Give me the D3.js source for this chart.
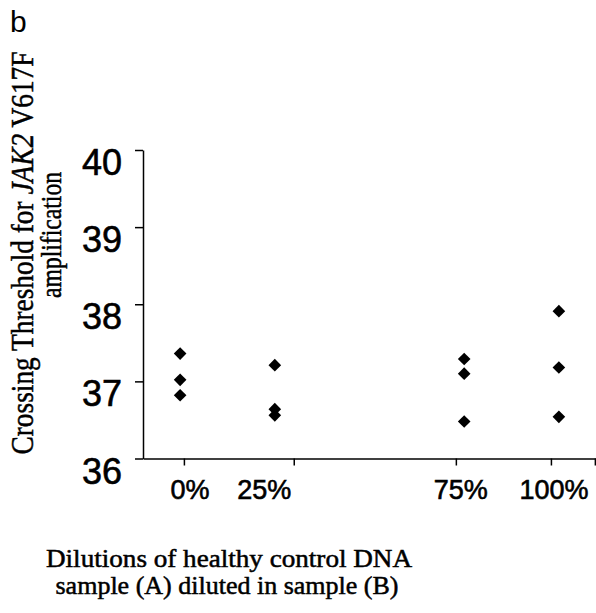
<!DOCTYPE html>
<html>
<head>
<meta charset="utf-8">
<script src="https://cdn.jsdelivr.net/npm/d3@7"></script>
<style>
  body { margin: 0; background: #fff; }
  svg { display: block; }
</style>
</head>
<body>
<div id="chart"></div>
<script>
// chart values
const dilutions = [0, 25, 75, 100];               // % of sample A
const ctValues = [
  [37.36, 37.02, 36.82],   // 0%
  [37.21, 36.64, 36.56],   // 25%
  [37.29, 37.10, 36.48],   // 75%
  [37.91, 37.18, 36.54]    // 100%
];
const yTicks = [36, 37, 38, 39, 40];
const xTickMarks = [1, 30, 72.8, 97.9, 109.5];   // tick marks sit off the categories in the original
const xTickLabels = ["0%", "25%", "75%", "100%"];
const xLabelPos = [2.6, 22.2, 74.1, 98.7];

const svgWidth = 596;
const svgHeight = 613;

const svg = d3.select("#chart")
    .append("svg")
    .attr("width", svgWidth)
    .attr("height", svgHeight);

// scales
const x = d3.scaleLinear()
    .domain([-9.8, 109.8])
    .range([143, 596]);

const y = d3.scaleLinear()
    .domain([36, 40])
    .range([458.5, 150]);

// y axis: line + ticks to the left, labels done by hand because they sit below the ticks
svg.append("g")
    .attr("class", "axis axis-y")
    .attr("transform", `translate(${x(-9.8)},0)`)
    .call(d3.axisLeft(y).tickValues(yTicks).tickSize(8).tickSizeOuter(0).tickFormat(""));

// x axis
svg.append("g")
    .attr("class", "axis axis-x")
    .attr("transform", `translate(0,${y(36)})`)
    .call(d3.axisBottom(x).tickValues(xTickMarks).tickSize(7).tickSizeOuter(0).tickFormat(""));

svg.selectAll(".axis path, .axis line")
    .attr("stroke", "#000")
    .attr("stroke-width", 1.5);

// y tick labels
svg.selectAll(".ylab")
    .data(yTicks)
    .enter()
    .append("text")
    .attr("class", "ylab")
    .attr("x", 122)
    .attr("y", d => y(d) + 25)
    .attr("text-anchor", "end")
    .attr("font-family", "Liberation Sans, Arial, sans-serif")
    .attr("font-size", "36px")
    .attr("stroke", "#000")
    .attr("stroke-width", 0.6)
    .text(d => d);

// x tick labels
svg.selectAll(".xlab")
    .data(xTickLabels)
    .enter()
    .append("text")
    .attr("class", "xlab")
    .attr("x", (d, i) => x(xLabelPos[i]))
    .attr("y", y(36) + 40)
    .attr("text-anchor", "middle")
    .attr("font-family", "Liberation Sans, Arial, sans-serif")
    .attr("font-size", "27px")
    .attr("stroke", "#000")
    .attr("stroke-width", 0.6)
    .text(d => d);

// points, flattened
const points = [];
dilutions.forEach(function (d, i) {
    ctValues[i].forEach(function (v) {
        points.push({ dil: d, ct: v });
    });
});

const diamond = d3.symbol().type(d3.symbolSquare).size(80);

svg.selectAll(".pt")
    .data(points)
    .enter()
    .append("path")
    .attr("class", "pt")
    .attr("d", diamond)
    .attr("transform", d => `translate(${x(d.dil)},${y(d.ct)}) rotate(45)`)
    .attr("fill", "#000");

// panel letter
svg.append("text")
    .text("b")
    .attr("x", 10)
    .attr("y", 32)
    .attr("font-family", "Liberation Sans, Arial, sans-serif")
    .attr("font-size", "30px");

// y axis title, two lines rotated
const yTitle = svg.append("g")
    .attr("font-family", "Liberation Serif, Times New Roman, serif")
    .attr("fill", "#000")
    .attr("stroke", "#000")
    .attr("stroke-width", 0.5);

const yt1 = yTitle.append("text")
    .attr("transform", "translate(33,253) rotate(-90)")
    .attr("text-anchor", "middle")
    .attr("font-size", "32px")
    .attr("textLength", 403)
    .attr("lengthAdjust", "spacingAndGlyphs");
yt1.append("tspan").text("Crossing Threshold for ");
yt1.append("tspan").attr("font-style", "italic").text("JAK2");
yt1.append("tspan").text(" V617F");

yTitle.append("text")
    .attr("transform", "translate(61,235) rotate(-90)")
    .attr("text-anchor", "middle")
    .attr("font-size", "30px")
    .attr("textLength", 126)
    .attr("lengthAdjust", "spacingAndGlyphs")
    .text("amplification");

// x axis title
const xTitle = svg.append("g")
    .attr("font-family", "Liberation Serif, Times New Roman, serif")
    .attr("font-size", "25px")
    .attr("text-anchor", "middle")
    .attr("stroke", "#000")
    .attr("stroke-width", 0.5);

xTitle.append("text")
    .attr("x", 229)
    .attr("y", 567)
    .attr("textLength", 366)
    .attr("lengthAdjust", "spacingAndGlyphs")
    .text("Dilutions of healthy control DNA");

xTitle.append("text")
    .attr("x", 227)
    .attr("y", 594)
    .attr("textLength", 343)
    .attr("lengthAdjust", "spacingAndGlyphs")
    .text("sample (A) diluted in sample (B)");
</script>
</body>
</html>
